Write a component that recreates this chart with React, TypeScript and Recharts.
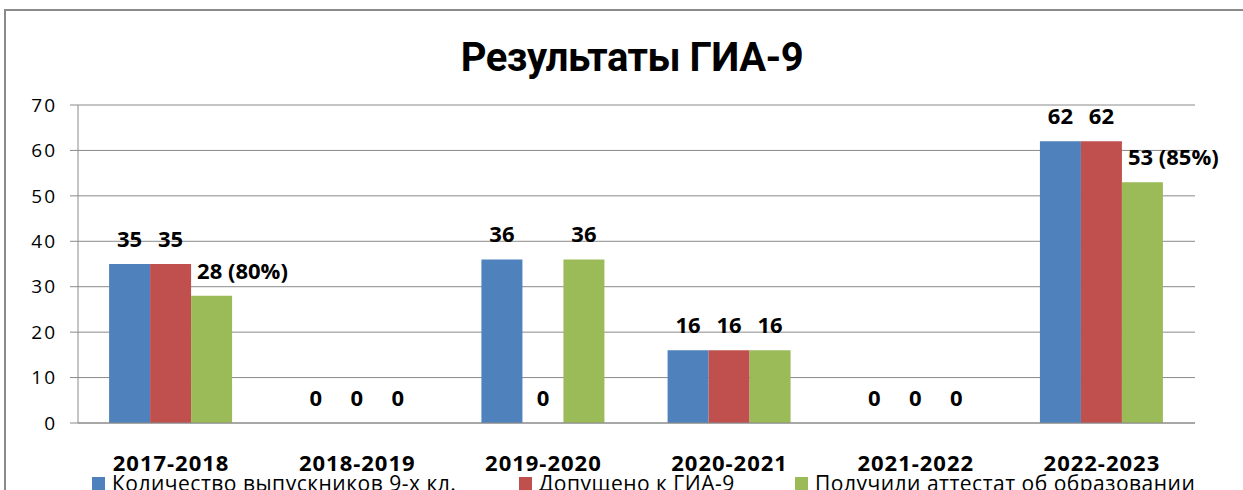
import React from "react";
import {
  BarChart,
  Bar,
  XAxis,
  YAxis,
  CartesianGrid,
  LabelList,
  Legend,
} from "recharts";

const categories = ["2017-2018", "2018-2019", "2019-2020", "2020-2021", "2021-2022", "2022-2023"];
const graduates = [35, 0, 36, 16, 0, 62];
const admitted = [35, 0, 0, 16, 0, 62];
const certified = [28, 0, 36, 16, 0, 53];
const certifiedLabels = ["28 (80%)", "0", "36", "16", "0", "53 (85%)"];
const seriesNames = [
  "Количество выпускников 9-х кл.",
  "Допущено к ГИА-9",
  "Получили аттестат об образовании",
];
const yTicks = [0, 10, 20, 30, 40, 50, 60, 70];
const edgeTicks = [0, 1, 2, 3, 4, 5, 6];
const title = "Результаты ГИА-9";

const COLORS = ["#4F81BD", "#C0504D", "#9BBB59"];
const GRID = "#8a8a8a";
const FONT = "'Open Sans', sans-serif";

const data = categories.map((c, i) => ({
  cat: c,
  graduates: graduates[i],
  admitted: admitted[i],
  certified: certified[i],
  certLabel: certifiedLabels[i],
}));

const zeroMin = (v: any) => (v === 0 ? 0.01 : 0);

const ValueLabel = (props: any) => {
  const { x, y, width, value } = props;
  return (
    <text
      x={x + width / 2}
      y={y - 17}
      textAnchor="middle"
      fontFamily={FONT}
      fontWeight={700}
      fontSize={22}
      fill="#000"
    >
      {value}
    </text>
  );
};

const CertLabel = (props: any) => {
  const { x, y, width, value } = props;
  const s = String(value);
  const wide = s.includes("(");
  return (
    <text
      x={wide ? x + 6 : x + width / 2}
      y={y - 17}
      textAnchor={wide ? "start" : "middle"}
      fontFamily={FONT}
      fontWeight={700}
      fontSize={22}
      fill="#000"
    >
      {s}
    </text>
  );
};

const itemWidths = [427, 276, 440];

const LegendContent = () => (
  <div
    style={{
      display: "flex",
      paddingLeft: 92,
      height: 30,
      alignItems: "center",
      transform: "translateY(-5px)",
      width: 1243,
    }}
  >
    {seriesNames.map((n, i) => (
      <div
        key={n}
        style={{
          width: itemWidths[i],
          flexShrink: 0,
          display: "flex",
          alignItems: "center",
          fontFamily: FONT,
          fontSize: 21,
          letterSpacing: 0.5,
          color: "#000",
          whiteSpace: "nowrap",
        }}
      >
        <span
          style={{
            display: "inline-block",
            width: 13,
            height: 13,
            background: COLORS[i],
            marginRight: 7,
            flexShrink: 0,
          }}
        />
        {n}
      </div>
    ))}
  </div>
);

export default function App() {
  return (
    <div
      style={{
        position: "absolute",
        left: 0,
        top: 0,
        width: 1243,
        height: 490,
        overflow: "hidden",
        background: "#fff",
      }}
    >
      <div
        style={{
          position: "absolute",
          left: 4,
          top: 9,
          width: 1260,
          height: 520,
          borderTop: "2px solid #8a8a8a",
          borderLeft: "2px solid #8a8a8a",
        }}
      />
      <div
        style={{
          position: "absolute",
          left: 0,
          top: 34,
          width: 1264,
          textAlign: "center",
          fontFamily: "Roboto, sans-serif",
          fontWeight: 700,
          fontSize: 40,
          letterSpacing: -0.5,
          color: "#000",
        }}
      >
        {title}
      </div>
      <div style={{ position: "absolute", left: 0, top: 0 }}>
        <BarChart
          width={1243}
          height={510}
          data={data}
          margin={{ top: 105, right: 48, left: 0, bottom: 7 }}
          barCategoryGap="16.7%"
          barGap={0}
        >
          <CartesianGrid vertical={false} stroke={GRID} strokeWidth={1} />
          <XAxis
            xAxisId="edges"
            type="number"
            domain={[0, 6]}
            ticks={edgeTicks}
            tick={false}
            tickSize={8}
            tickLine={{ stroke: GRID }}
            axisLine={false}
            height={0}
            allowDataOverflow
          />
          <XAxis
            xAxisId="cat"
            dataKey="cat"
            tickLine={false}
            tickSize={0}
            tickMargin={32}
            axisLine={{ stroke: GRID }}
            height={50}
            interval={0}
            tick={{ fontFamily: FONT, fontWeight: 700, fontSize: 22, letterSpacing: 1, fill: "#000" }}
          />
          <YAxis
            width={78}
            domain={[0, 70]}
            ticks={yTicks}
            tickSize={8}
            tickMargin={13}
            tickLine={{ stroke: GRID }}
            axisLine={{ stroke: GRID }}
            tick={{ fontFamily: FONT, fontSize: 19, letterSpacing: 2, fill: "#000" }}
            interval={0}
          />
          <Legend verticalAlign="bottom" height={30} content={<LegendContent />} />
          <Bar xAxisId="cat" dataKey="graduates" name={seriesNames[0]} fill={COLORS[0]} minPointSize={zeroMin} isAnimationActive={false}>
            <LabelList dataKey="graduates" content={<ValueLabel />} />
          </Bar>
          <Bar xAxisId="cat" dataKey="admitted" name={seriesNames[1]} fill={COLORS[1]} minPointSize={zeroMin} isAnimationActive={false}>
            <LabelList dataKey="admitted" content={<ValueLabel />} />
          </Bar>
          <Bar xAxisId="cat" dataKey="certified" name={seriesNames[2]} fill={COLORS[2]} minPointSize={zeroMin} isAnimationActive={false}>
            <LabelList dataKey="certLabel" content={<CertLabel />} />
          </Bar>
        </BarChart>
      </div>
    </div>
  );
}
